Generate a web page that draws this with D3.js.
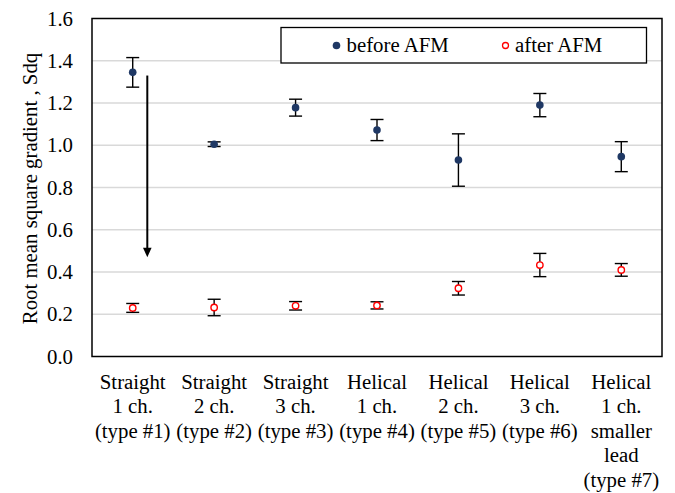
<!DOCTYPE html>
<html>
<head>
<meta charset="utf-8">
<script src="https://cdn.jsdelivr.net/npm/d3@7"></script>
<style>
  html, body { margin: 0; padding: 0; background: #fff; }
  svg { display: block; font-family: "Liberation Serif", "Times New Roman", serif; }
</style>
</head>
<body>
<svg id="chart" width="675" height="493"></svg>
<script>
// Tool types (multi-line category labels)
const categories = [
  ["Straight", "1 ch.", "(type #1)"],
  ["Straight", "2 ch.", "(type #2)"],
  ["Straight", "3 ch.", "(type #3)"],
  ["Helical", "1 ch.", "(type #4)"],
  ["Helical", "2 ch.", "(type #5)"],
  ["Helical", "3 ch.", "(type #6)"],
  ["Helical", "1 ch.", "smaller", "lead", "(type #7)"]
];

// Sdq before AFM: mean and error half-range
const beforeMean = [1.345, 1.005, 1.178, 1.072, 0.930, 1.190, 0.946];
const beforeErr  = [0.070, 0.011, 0.040, 0.050, 0.124, 0.055, 0.071];

// Sdq after AFM: mean and error half-range
const afterMean = [0.230, 0.232, 0.240, 0.242, 0.323, 0.433, 0.410];
const afterErr  = [0.021, 0.039, 0.020, 0.017, 0.032, 0.055, 0.030];

const yTicks = [0.0, 0.2, 0.4, 0.6, 0.8, 1.0, 1.2, 1.4, 1.6];
const seriesNames = ["before AFM", "after AFM"];
const yTitle = "Root mean square gradient , Sdq";

const FS = 20.8;
const svg = d3.select("#chart");
const margin = { left: 92, right: 13, top: 18.5, bottom: 136.5 };
const W = 675, H = 493;
const plotW = W - margin.left - margin.right;
const plotH = H - margin.top - margin.bottom;

const x = d3.scaleBand()
  .domain(d3.range(categories.length))
  .range([margin.left, margin.left + plotW])
  .paddingInner(0).paddingOuter(0);
const y = d3.scaleLinear().domain([0, 1.6]).range([margin.top + plotH, margin.top]);
const cx = i => x(i) + x.bandwidth() / 2;

// Horizontal gridlines
svg.append("g")
  .selectAll("line")
  .data(yTicks.filter(t => t > 0 && t < 1.6))
  .join("line")
  .attr("x1", margin.left).attr("x2", margin.left + plotW)
  .attr("y1", d => y(d)).attr("y2", d => y(d))
  .attr("stroke", "#d9d9d9").attr("stroke-width", 1.5);

// Plot frame
svg.append("rect")
  .attr("x", margin.left).attr("y", margin.top)
  .attr("width", plotW).attr("height", plotH)
  .attr("fill", "none").attr("stroke", "#000").attr("stroke-width", 1.5);

// Y axis tick labels
const yAxis = d3.axisLeft(y).tickValues(yTicks).tickFormat(d3.format(".1f")).tickSize(0).tickPadding(19);
const yg = svg.append("g").attr("transform", `translate(${margin.left},0)`).call(yAxis);
yg.select(".domain").remove();
yg.selectAll("text").attr("font-size", FS).attr("fill", "#000")
  .attr("font-family", "'Liberation Serif', 'Times New Roman', serif");

// Y axis title
svg.append("text")
  .attr("transform", `translate(37,${margin.top + plotH / 2 + 1}) rotate(-90)`)
  .attr("text-anchor", "middle")
  .attr("font-size", FS)
  .attr("fill", "#000")
  .text(yTitle);

// Category labels
const xl = svg.append("g");
categories.forEach((lines, i) => {
  const t = xl.append("text")
    .attr("x", cx(i)).attr("y", 388.5)
    .attr("text-anchor", "middle")
    .attr("font-size", FS)
    .attr("fill", "#000");
  lines.forEach((ln, k) => {
    t.append("tspan").attr("x", cx(i)).attr("y", 388.5 + k * 24.6).text(ln);
  });
});

// Error bars
function errorBars(means, errs) {
  const g = svg.append("g").attr("stroke", "#000").attr("stroke-width", 1.4);
  const cap = 6.5;
  means.forEach((m, i) => {
    const x0 = cx(i);
    const top = y(m + errs[i]), bot = y(m - errs[i]);
    g.append("line").attr("x1", x0).attr("x2", x0).attr("y1", top).attr("y2", bot);
    g.append("line").attr("x1", x0 - cap).attr("x2", x0 + cap).attr("y1", top).attr("y2", top);
    g.append("line").attr("x1", x0 - cap).attr("x2", x0 + cap).attr("y1", bot).attr("y2", bot);
  });
}
errorBars(beforeMean, beforeErr);
errorBars(afterMean, afterErr);

// Markers
svg.append("g").selectAll("circle").data(beforeMean).join("circle")
  .attr("cx", (d, i) => cx(i)).attr("cy", d => y(d)).attr("r", 3.8)
  .attr("fill", "#1f3864");
svg.append("g").selectAll("circle").data(afterMean).join("circle")
  .attr("cx", (d, i) => cx(i)).attr("cy", d => y(d)).attr("r", 3.2)
  .attr("fill", "#fff").attr("stroke", "#ff0000").attr("stroke-width", 1.4);

// Downward arrow showing the reduction after AFM
const arrowX = 147.3;
svg.append("line")
  .attr("x1", arrowX).attr("x2", arrowX)
  .attr("y1", y(1.33)).attr("y2", y(0.51))
  .attr("stroke", "#000").attr("stroke-width", 2);
svg.append("path")
  .attr("d", `M${arrowX - 4.3},${y(0.51) - 1} L${arrowX + 4.3},${y(0.51) - 1} L${arrowX},${y(0.47)} Z`)
  .attr("fill", "#000");

// Legend
const lg = svg.append("g");
lg.append("rect")
  .attr("x", 281).attr("y", 27.5).attr("width", 365.5).attr("height", 35.5)
  .attr("fill", "#fff").attr("stroke", "#000").attr("stroke-width", 1.3);
lg.append("circle").attr("cx", 336.5).attr("cy", 45.5).attr("r", 3.8).attr("fill", "#1f3864");
lg.append("text").attr("x", 346.5).attr("y", 52).attr("font-size", FS).attr("fill", "#000").text(seriesNames[0]);
lg.append("circle").attr("cx", 505.5).attr("cy", 45.5).attr("r", 3.0)
  .attr("fill", "#fff").attr("stroke", "#ff0000").attr("stroke-width", 1.3);
lg.append("text").attr("x", 515).attr("y", 52).attr("font-size", FS).attr("fill", "#000").text(seriesNames[1]);
</script>
</body>
</html>
